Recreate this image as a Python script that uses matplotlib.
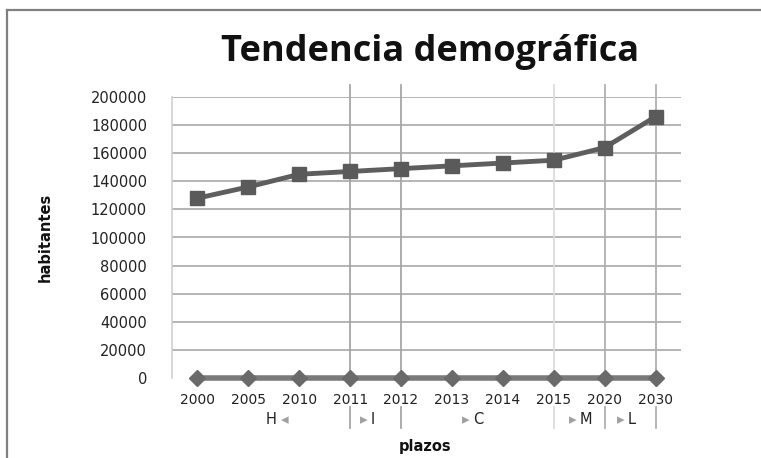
import matplotlib
matplotlib.use("Agg")
import matplotlib.pyplot as plt
import matplotlib.transforms as mtransforms
from matplotlib.lines import Line2D

# ---- data ----
categories = ["2000", "2005", "2010", "2011", "2012", "2013", "2014", "2015", "2020", "2030"]
habitantes = [128000, 136000, 145000, 147000, 149000, 151000, 153000, 155000, 164000, 186000]
serie_cero = [0, 0, 0, 0, 0, 0, 0, 0, 0, 0]
yticks = [0, 20000, 40000, 60000, 80000, 100000, 120000, 140000, 160000, 180000, 200000]
groups = ["H", "I", "C", "M", "L"]
group_pos = [1.55, 3.35, 5.35, 7.45, 8.4]
group_arrow = ["◂", "▸", "▸", "▸", "▸"]
separator_idx = [3, 4, 7, 8, 9]
separator_color = ["#a6a6a6", "#a6a6a6", "#dcdcdc", "#b0b0b0", "#b0b0b0"]

W, H = 761, 458
fig = plt.figure(figsize=(W / 100, H / 100), dpi=100)
fig.patch.set_facecolor("white")

# chart border (top and left visible)
fig.add_artist(Line2D([7 / W, 1.0], [1 - 10 / H, 1 - 10 / H], color="#808080", lw=1.6, transform=fig.transFigure))
fig.add_artist(Line2D([7 / W, 7 / W], [0, 1 - 10 / H], color="#808080", lw=1.6, transform=fig.transFigure))

left, right, top, bottom = 172, 681, 97, 378
ax = fig.add_axes([left / W, 1 - bottom / H, (right - left) / W, (bottom - top) / H])

x = list(range(len(categories)))
ax.set_xlim(-0.5, len(categories) - 0.5)
ax.set_ylim(0, 200000)

ax.set_yticks(yticks)
ax.set_yticklabels([str(v) for v in yticks], fontsize=10.5, color="#222222")
ax.set_xticks(x)
ax.set_xticklabels(categories, fontsize=10, color="#222222")
ax.tick_params(axis="both", length=0)
ax.tick_params(axis="y", pad=18)
ax.tick_params(axis="x", pad=11)

for v in yticks[1:]:
    ax.axhline(v, color="#a8a8a8", lw=1.2, zorder=0)
for s in ["top", "right", "bottom"]:
    ax.spines[s].set_visible(False)
ax.spines["left"].set_color("#cfcfcf")
ax.spines["left"].set_linewidth(1.2)

# vertical separators (extend above plot and into the group-label area)
trans = mtransforms.blended_transform_factory(ax.transData, ax.transAxes)
ph = bottom - top
for idx, col in zip(separator_idx, separator_color):
    ax.plot([idx, idx], [(bottom - 85) / ph, (bottom - 386) / ph], color=col, lw=1.3,
            transform=trans, clip_on=False, zorder=1)
    ax.plot([idx, idx], [(bottom - 407) / ph, (bottom - 428) / ph], color=col, lw=1.3,
            transform=trans, clip_on=False, zorder=1)

# series
ax.plot(x, serie_cero, color="#7a7a7a", lw=4, marker="D", markersize=8,
        markerfacecolor="#6a6a6a", markeredgecolor="#6a6a6a", clip_on=False, zorder=3)
ax.plot(x, habitantes, color="#5e5e5e", lw=3.5, marker="s", markersize=10.5,
        markerfacecolor="#5a5a5a", markeredgecolor="#5a5a5a", clip_on=False, zorder=4)

# group labels
gy = (bottom - 420) / ph
for g, p, a in zip(groups, group_pos, group_arrow):
    if a == "◂":
        ax.text(p, gy, g, transform=trans, ha="right", va="center", fontsize=10.5, color="#222222")
        ax.text(p + 0.1, gy, a, transform=trans, ha="left", va="center", fontsize=11, color="#a0a0a0")
    else:
        ax.text(p, gy, a, transform=trans, ha="right", va="center", fontsize=11, color="#a0a0a0")
        ax.text(p + 0.06, gy, g, transform=trans, ha="left", va="center", fontsize=10.5, color="#222222")

# titles
fig.text(430 / W, 1 - 52 / H, "Tendencia demográfica", ha="center", va="center",
         fontsize=26, fontweight="bold", family="Open Sans", color="#111111")
fig.text(45 / W, 1 - 237 / H, "habitantes", rotation=90, ha="center", va="center",
         fontsize=10.5, fontweight="bold", color="#111111")
fig.text(425 / W, 1 - 447 / H, "plazos", ha="center", va="center",
         fontsize=10.5, fontweight="bold", color="#111111")

fig.savefig("out.png", dpi=100)
